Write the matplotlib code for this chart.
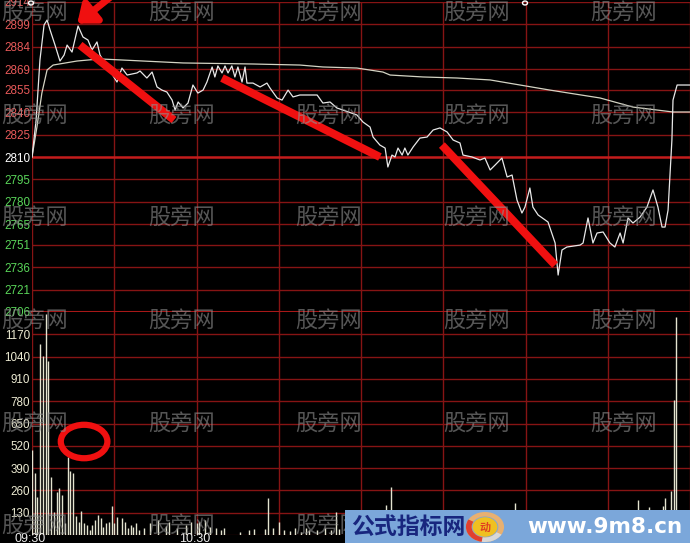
import numpy as np
import matplotlib
matplotlib.use('Agg')
import matplotlib.pyplot as plt
from matplotlib.patches import Ellipse, Rectangle, Circle, Wedge

# minutes after 09:30 and index value of the intraday line
price_min = [0, 1.5, 2.9, 4.4, 5.5, 6.6, 8.4, 10.2, 11.7, 12.8, 14.6, 16.8, 18.6, 20.4,
             21.9, 23.7, 24.8, 31.0, 32.8, 34.7, 38.3, 39.4, 41.9, 43.8, 45.6, 47.4,
             49.2, 51.1, 52.2, 53.3, 55.1, 56.9, 58.7, 60.5, 62.4, 63.8, 65.7, 66.7,
             67.8, 69.3, 70.4, 71.5, 72.9, 74.0, 75.1, 76.6, 77.7, 78.4, 80.6, 83.2,
             85.7, 86.8, 89.4, 91.2, 93.4, 95.2, 97.7, 104.0, 106.1, 108.7, 111.2,
             113.4, 118.5, 120.7, 123.3, 124.4, 126.9, 128.8, 129.8, 131.3, 132.4,
             133.5, 135.0, 136.0, 137.1, 139.0, 141.5, 144.1, 146.3, 148.8, 151.4,
             153.6, 156.1, 157.2, 160.5, 163.4, 165.2, 167.1, 168.9, 171.4, 173.3,
             175.1, 176.9, 178.7, 179.8, 181.6, 182.7, 184.6, 188.2, 190.8, 191.9,
             193.3, 195.1, 199.9, 201.0, 202.8, 204.6, 206.1, 208.3, 210.8, 212.6,
             214.5, 215.6, 217.4, 219.2, 221.8, 224.3, 226.5, 228.3, 229.8, 230.9,
             232.0, 233.4, 233.8, 235.3, 240]
price_val = [2810.0, 2834.8, 2875.1, 2898.6, 2901.9, 2895.2, 2885.1, 2874.4, 2878.4,
             2885.1, 2880.4, 2897.9, 2890.5, 2888.5, 2881.8, 2887.2, 2878.4, 2860.3,
             2869.7, 2865.0, 2866.4, 2867.7, 2863.0, 2867.0, 2857.0, 2854.9, 2853.6,
             2848.2, 2841.5, 2846.9, 2842.9, 2846.2, 2858.3, 2852.9, 2854.9, 2860.3,
             2870.4, 2863.7, 2871.1, 2866.4, 2871.1, 2866.4, 2871.1, 2863.7, 2870.4,
             2860.3, 2870.4, 2859.6, 2859.6, 2857.0, 2859.6, 2856.3, 2849.6, 2848.2,
             2854.9, 2850.3, 2851.6, 2851.6, 2846.2, 2846.9, 2842.9, 2841.5, 2838.2,
             2833.5, 2830.1, 2823.4, 2818.0, 2816.0, 2803.3, 2811.3, 2810.0, 2816.0,
             2811.3, 2816.0, 2811.3, 2816.7, 2822.7, 2823.4, 2828.1, 2829.5, 2826.8,
             2821.4, 2819.4, 2811.3, 2810.0, 2808.0, 2809.3, 2801.3, 2804.6, 2809.3,
             2796.6, 2797.9, 2781.1, 2772.4, 2776.4, 2789.2, 2776.4, 2771.1, 2766.4,
             2752.3, 2730.8, 2747.6, 2749.6, 2750.9, 2752.3, 2769.1, 2752.3, 2759.0,
             2759.7, 2752.3, 2749.6, 2759.0, 2752.3, 2769.1, 2765.7, 2769.7, 2776.4,
             2787.9, 2776.4, 2763.0, 2763.0, 2774.4, 2821.4, 2848.2, 2858.3, 2858.3]

# average price line
avg_min = [0, 1.8, 3.6, 5.5, 7.7, 16.4, 24.8, 55.1, 80.6, 97.7, 106.1, 118.5, 128.0,
           130.6, 142.6, 155.0, 167.1, 188.9, 207.2, 219.2, 233.8, 240]
avg_val = [2810.0, 2830.1, 2852.9, 2868.4, 2871.7, 2874.4, 2875.8, 2873.1, 2872.4,
           2871.7, 2870.4, 2869.7, 2867.0, 2865.0, 2863.7, 2863.0, 2861.7, 2854.9,
           2849.6, 2843.5, 2840.2, 2840.2]

# volume per minute
vol_min = list(range(0, 32)) + [
    33, 34, 35, 36, 37, 38, 39, 41, 43, 46, 49, 50, 53, 56, 58, 60, 61, 63, 65, 67, 69,
    70, 76, 79, 81, 85, 86, 88, 90, 92, 94, 96, 98, 100, 101, 104, 107, 109, 111, 112,
    116, 120, 123, 129, 131, 134, 138, 142, 146, 149, 152, 156, 160, 163, 167, 171, 174,
    176, 179, 182, 186, 189, 193, 196, 200, 204, 207, 211, 214, 216, 219, 221, 223, 225,
    227, 228, 230, 231, 232, 233, 234, 235]
vol_val = [498, 363, 223, 1113, 1043, 1289, 1014, 340, 135, 252, 275, 234, 70, 457, 375,
           363, 111, 76, 141, 70, 59, 29, 59, 88, 117, 100, 47, 70, 76, 170, 70, 105,
           100, 76, 41, 59, 47, 70, 29, 41, 70, 88, 53, 76, 41, 59, 76, 70, 76, 88, 47,
           41, 29, 41, 18, 29, 35, 35, 217, 41, 76, 29, 23, 41, 18, 41, 29, 29, 41, 29,
           135, 35, 47, 59, 41, 176, 280, 47, 35, 59, 41, 70, 35, 47, 59, 41, 35, 59, 47,
           187, 41, 70, 35, 47, 59, 41, 88, 47, 59, 76, 41, 100, 59, 205, 70, 164, 88,
           117, 170, 217, 100, 258, 785, 1271]

price_ticks = [2914, 2899, 2884, 2869, 2855, 2840, 2825, 2810, 2795, 2780, 2765, 2751,
               2736, 2721, 2706]
pre_close = 2810
vol_ticks = [130, 260, 390, 520, 650, 780, 910, 1040, 1170]
time_ticks = [0, 60]
time_labels = ['09:30', '10:30']

# hand drawn red marks (minute, value)
red_lines = [((17.5, 2885.1), (51.8, 2834.8)),
             ((69.3, 2863.0), (126.9, 2810.0)),
             ((149.5, 2818.0), (190.8, 2737.5))]
arrow_tail = (28.4, 2917)
arrow_tip = (16.5, 2899.5)
circle_center = (19.0, 545)

plt.rcParams['font.family'] = ['Liberation Sans', 'DejaVu Sans']
cjk = ['Noto Sans CJK SC', 'DejaVu Sans']

W, H = 690, 543
fig = plt.figure(figsize=(W / 100, H / 100), dpi=100, facecolor='black')


def box(x0, y0, x1, y1):
    return [x0 / W, 1 - y1 / H, (x1 - x0) / W, (y1 - y0) / H]


grid = '#861414'
ax1 = fig.add_axes(box(32, 2, 690, 312))
ax2 = fig.add_axes(box(32, 312, 690, 535))
for ax in (ax1, ax2):
    ax.set_facecolor('black')
    for s in ax.spines.values():
        s.set_visible(False)
    ax.set_xlim(0, 240)
    ax.set_xticks([])
    for t in range(0, 241, 30):
        ax.axvline(t, color=grid, lw=1, zorder=1)

# price panel
ax1.set_ylim(price_ticks[-1], price_ticks[0])
for v in price_ticks:
    if v == pre_close:
        ax1.axhline(v, color='#c41c1c', lw=1.8, zorder=1)
    else:
        ax1.axhline(v, color=grid, lw=1, zorder=1)
ax1.axhline(price_ticks[-1], color='#a81818', lw=1.5, zorder=1, clip_on=False)
ax1.plot(avg_min, avg_val, color='#d4d4c4', lw=0.9, zorder=3)
ax1.plot(price_min, price_val, color='#e8e8e8', lw=0.9, zorder=4)
ax1.set_yticks(price_ticks)
ax1.set_yticklabels([str(v) for v in price_ticks])
ax1.tick_params(axis='y', length=0, pad=1.5, labelsize=8.4)
for lbl, v in zip(ax1.get_yticklabels(), price_ticks):
    if v > pre_close:
        lbl.set_color('#e85a5a')
    elif v == pre_close:
        lbl.set_color('white')
    else:
        lbl.set_color('#5ad65a')

for a, b in red_lines:
    ax1.plot([a[0], b[0]], [a[1], b[1]], color='#f01010', lw=5.8,
             solid_capstyle='butt', zorder=6)
ax1.annotate('', xy=arrow_tip, xytext=arrow_tail, annotation_clip=False,
             arrowprops=dict(arrowstyle='-|>,head_length=1.0,head_width=0.8',
                             color='#f01010', lw=5, shrinkA=0, shrinkB=0), zorder=6)

# volume panel
ax2.set_ylim(0, 1300)
for v in vol_ticks:
    ax2.axhline(v, color=grid, lw=1, zorder=1)
ax2.axhline(0, color='#3a0808', lw=1, zorder=1)
ax2.vlines(vol_min, 0, vol_val, color='#e4e4d0', lw=1, zorder=3)
ax2.set_yticks(vol_ticks)
ax2.set_yticklabels([str(v) for v in vol_ticks])
ax2.tick_params(axis='y', length=0, pad=1.5, labelsize=8.4, colors='#ecead2')
ax2.add_patch(Ellipse(circle_center, 17, 195, fill=False, ec='#f01010', lw=4.5, zorder=6))

for t, s in zip(time_ticks, time_labels):
    x = 32 + t / 240 * 658
    fig.text(x / W - 0.003, 1 - 533 / H, s, color='#ececec', fontsize=9,
             ha='center', va='top')

# watermark
for yy in [12, 115, 217, 320, 423, 525]:
    for xx in [1, 148, 295, 443, 590]:
        fig.text(xx / W, 1 - yy / H, '股旁网', family=cjk, fontsize=16,
                 color='#909090', alpha=0.6, ha='left', va='center', zorder=5)

# small markers on top
fig.add_artist(Circle((31 / W, 1 - 3 / H), 2.5 / W, transform=fig.transFigure,
                      fc='none', ec='white', lw=1, zorder=7))
fig.add_artist(Circle((525 / W, 1 - 3 / H), 2.5 / W, transform=fig.transFigure,
                      fc='none', ec='white', lw=1, zorder=7))

# site banner
fig.add_artist(Rectangle((345 / W, 0), 345 / W, 33 / H, transform=fig.transFigure,
                         fc='#7ba7da', ec='none', zorder=10))
fig.text(351 / W, 1 - 527 / H, '公式指标网', family=cjk, fontsize=16.5,
         fontweight='bold', color='#18267e', ha='left', va='center', zorder=11)
lx, ly, r = 485 / W, 1 - 527 / H, 15 / H
fig.add_artist(Wedge((lx, ly), r, 0, 360, width=0.3 * r, transform=fig.transFigure,
                     fc='#e8b070', ec='none', zorder=11))
fig.add_artist(Wedge((lx, ly), r, 150, 260, width=0.3 * r, transform=fig.transFigure,
                     fc='#e04030', ec='none', zorder=11))
fig.add_artist(Wedge((lx, ly), r, 260, 330, width=0.3 * r, transform=fig.transFigure,
                     fc='#d8d8d8', ec='none', zorder=11))
fig.add_artist(Circle((lx, ly), 0.65 * r, transform=fig.transFigure,
                      fc='#f0c020', ec='none', zorder=11))
fig.text(lx, ly, '动', family=cjk, fontsize=8, fontweight='bold', color='#e04020',
         ha='center', va='center', zorder=12)
fig.text(527 / W, 1 - 527 / H, 'www.9m8.cn', fontsize=15.5, fontweight='bold',
         family=['DejaVu Sans'], color='white', ha='left', va='center', zorder=11)

fig.savefig('out.png', dpi=100, facecolor='black')
